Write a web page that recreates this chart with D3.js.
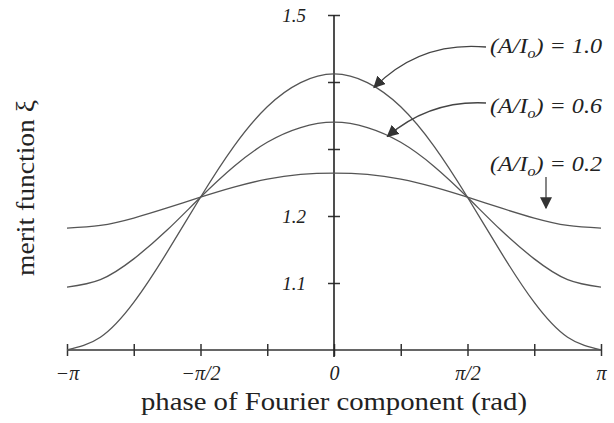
<!DOCTYPE html>
<html>
<head>
<meta charset="utf-8">
<script src="https://cdn.jsdelivr.net/npm/d3@7"></script>
<style>
  body { margin: 0; background: #fff; }
  text { font-family: "Liberation Serif", "DejaVu Serif", serif; fill: #222; }
</style>
</head>
<body>
<svg id="chart" width="614" height="423"></svg>
<script>
// phase in units of pi, read every pi/8
const phaseOverPi = [-1, -0.875, -0.75, -0.625, -0.5, -0.375, -0.25, -0.125, 0,
  0.125, 0.25, 0.375, 0.5, 0.625, 0.75, 0.875, 1];
const merit10 = [1.000, 1.019, 1.071, 1.146, 1.228, 1.304, 1.363, 1.399, 1.412,
  1.399, 1.363, 1.304, 1.228, 1.146, 1.071, 1.019, 1.000];
const merit06 = [1.094, 1.105, 1.136, 1.179, 1.228, 1.274, 1.310, 1.332, 1.340,
  1.332, 1.310, 1.274, 1.228, 1.179, 1.136, 1.105, 1.094];
const merit02 = [1.182, 1.186, 1.197, 1.212, 1.228, 1.243, 1.255, 1.262, 1.264,
  1.262, 1.255, 1.243, 1.228, 1.212, 1.197, 1.186, 1.182];
const ratios = ["1.0", "0.6", "0.2"];
const xTickValues = [-1, -0.75, -0.5, -0.25, 0, 0.25, 0.5, 0.75, 1];
const xTickLabels = { "-1": "\u2212\u03c0", "-0.5": "\u2212\u03c0/2", "0": "0", "0.5": "\u03c0/2", "1": "\u03c0" };
const yTickValues = [1.1, 1.2, 1.3, 1.4, 1.5];
const yTickLabels = [1.1, 1.2, 1.5];

const svg = d3.select("#chart");
let x = d3.scaleLinear().domain([-Math.PI, Math.PI]).range([67, 601]),
  y = d3.scaleLinear().domain([1.0, 1.5]).range([350, 15]);

// x axis
const xAxis = svg.append("g")
  .attr("transform", "translate(0,350)")
  .call(d3.axisBottom(x)
    .tickValues(xTickValues.map((d) => d * Math.PI))
    .tickSize(6)
    .tickPadding(10)
    .tickFormat((d) => xTickLabels[String(+(d / Math.PI).toFixed(2))] || ""));
xAxis.select(".domain").remove();
xAxis.append("line").attr("x1", 67).attr("x2", 601)
  .attr("stroke", "#333").attr("stroke-width", 1.5);
xAxis.selectAll(".tick line").attr("y1", -6).attr("y2", 6)
  .attr("stroke", "#333").attr("stroke-width", 1.5);
xAxis.selectAll(".tick text")
  .attr("font-family", "Liberation Serif").attr("font-style", "italic")
  .attr("font-size", 20).attr("fill", "#222");

// y axis in the middle
const yAxis = svg.append("g")
  .attr("transform", "translate(" + x(0) + ",0)")
  .call(d3.axisLeft(y)
    .tickValues(yTickValues)
    .tickSize(6)
    .tickPadding(22)
    .tickFormat((d) => yTickLabels.includes(d) ? d.toFixed(1) : ""));
yAxis.select(".domain").remove();
yAxis.append("line").attr("y1", 15).attr("y2", 357)
  .attr("stroke", "#222").attr("stroke-width", 1.6);
yAxis.selectAll(".tick line").attr("x1", -6).attr("x2", 6)
  .attr("stroke", "#333").attr("stroke-width", 1.5);
yAxis.selectAll(".tick text")
  .attr("font-family", "Liberation Serif").attr("font-style", "italic")
  .attr("font-size", 19).attr("fill", "#222");

// curves
const line = d3.line()
  .x((d) => x(d[0] * Math.PI))
  .y((d) => y(d[1]))
  .curve(d3.curveNatural);
[merit10, merit06, merit02].forEach((vals) => {
  svg.append("path")
    .datum(phaseOverPi.map((p, i) => [p, vals[i]]))
    .attr("d", line)
    .attr("fill", "none")
    .attr("stroke", "#555")
    .attr("stroke-width", 1.3);
});

// axis titles
svg.append("text")
  .attr("x", x(0)).attr("y", 410)
  .attr("text-anchor", "middle")
  .attr("font-size", 26)
  .attr("textLength", 386)
  .attr("lengthAdjust", "spacingAndGlyphs")
  .text("phase of Fourier component (rad)");
svg.append("text")
  .attr("transform", "translate(34,188) rotate(-90)")
  .attr("text-anchor", "middle")
  .attr("font-size", 25)
  .attr("textLength", 176)
  .attr("lengthAdjust", "spacingAndGlyphs")
  .text("merit function \u03be");

// labels with arrows
svg.append("defs").append("marker")
  .attr("id", "head").attr("viewBox", "0 0 10 10")
  .attr("refX", 9).attr("refY", 5)
  .attr("markerWidth", 12).attr("markerHeight", 12)
  .attr("markerUnits", "userSpaceOnUse")
  .attr("orient", "auto")
  .append("path").attr("d", "M0,0L10,5L0,10Z").attr("fill", "#333");

const labelY = [47, 107, 165];
ratios.forEach((r, i) => {
  const t = svg.append("text")
    .attr("x", 490).attr("y", labelY[i] + 6)
    .attr("font-style", "italic").attr("font-size", 21)
    .attr("textLength", 112)
    .attr("lengthAdjust", "spacingAndGlyphs");
  t.append("tspan").text("(A/I");
  t.append("tspan").attr("dy", 5).attr("font-size", 14).text("o");
  t.append("tspan").attr("dy", -5).text(") = " + r);
});

// arrows pointing to the curves
const arrowTip10 = 0.15, arrowTip06 = 0.20;
svg.append("path")
  .attr("d", "M486," + labelY[0] + " Q420,41 " + x(arrowTip10 * Math.PI) + "," + y(d3.interpolateNumber(merit10[9], merit10[10])((arrowTip10 - 0.125) / 0.125)))
  .attr("fill", "none").attr("stroke", "#444").attr("stroke-width", 1.3)
  .attr("marker-end", "url(#head)");
svg.append("path")
  .attr("d", "M486," + (labelY[1] - 4) + " Q430,100 " + x(arrowTip06 * Math.PI) + "," + y(d3.interpolateNumber(merit06[9], merit06[10])((arrowTip06 - 0.125) / 0.125)))
  .attr("fill", "none").attr("stroke", "#444").attr("stroke-width", 1.3)
  .attr("marker-end", "url(#head)");
svg.append("path")
  .attr("d", "M546,177 L546,208")
  .attr("fill", "none").attr("stroke", "#444").attr("stroke-width", 1.3)
  .attr("marker-end", "url(#head)");
</script>
</body>
</html>
